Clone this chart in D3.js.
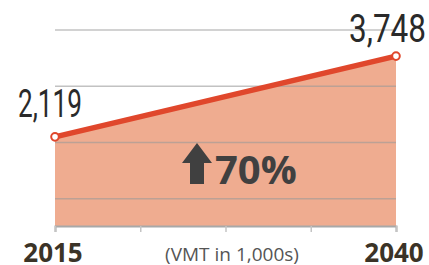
<!DOCTYPE html>
<html>
<head>
<meta charset="utf-8">
<script src="https://cdn.jsdelivr.net/npm/d3@7"></script>
<style>
  body { margin: 0; background: #fff; }
  svg { display: block; }
</style>
</head>
<body>
<script>
// data
var years = [2015, 2040];
var vmt = [2119, 3748];
var vmtLabels = ["2,119", "3,748"];
var gridValues = [870, 2005, 3140, 4275];
var changeLabel = "70%";
var unitLabel = "(VMT in 1,000s)";

var W = 429, H = 265;

var svg = d3.select("body")
    .append("svg")
    .attr("width", W)
    .attr("height", H)

var x = d3.scaleLinear()
    .domain([2015, 2040])
    .range([55, 396])

var y = d3.scaleLinear()
    .domain([300, 4275])
    .range([227, 30])

var pts = years.map((d, i) => ({year: d, v: vmt[i], label: vmtLabels[i]}))

// area under the line
var area = d3.area()
    .x(d => x(d.year))
    .y0(y(300))
    .y1(d => y(d.v))

svg.append("path")
    .datum(pts)
    .attr("d", area)
    .attr("fill", "#efac90")

// grid lines
svg.selectAll(".grid")
    .data(gridValues)
    .enter()
    .append("line")
    .attr("x1", x(2015))
    .attr("x2", x(2040))
    .attr("y1", d => y(d))
    .attr("y2", d => y(d))
    .attr("stroke", "#9a9a9a")
    .attr("stroke-opacity", 0.6)
    .attr("stroke-width", 1.5)

// x axis with ticks
var xAxis = d3.axisBottom(x)
    .tickValues(d3.range(5).map(i => 2015 + i * 25 / 4))
    .tickSize(6)
    .tickFormat("")

var ax = svg.append("g")
    .attr("transform", "translate(0," + (y(300) - 1) + ")")
    .call(xAxis)
ax.select(".domain").attr("stroke", "#a8a8a8").attr("stroke-width", 2)
ax.selectAll(".tick line").attr("stroke", "#c4c4c4").attr("stroke-width", 1.5)

// red line
svg.append("path")
    .datum(pts)
    .attr("d", d3.line().x(d => x(d.year)).y(d => y(d.v)))
    .attr("fill", "none")
    .attr("stroke", "#e0472c")
    .attr("stroke-width", 5.5)

svg.selectAll(".dot")
    .data(pts)
    .enter()
    .append("circle")
    .attr("cx", d => x(d.year))
    .attr("cy", d => y(d.v))
    .attr("r", 3.8)
    .attr("fill", "#fff")
    .attr("stroke", "#e0472c")
    .attr("stroke-width", 2)

// value labels (condensed look)
svg.selectAll(".vlab")
    .data(pts)
    .enter()
    .append("text")
    .attr("x", (d, i) => x(d.year) + (i == 0 ? -37 : -47))
    .attr("y", (d, i) => y(d.v) + (i == 0 ? -20 : -14))
    .attr("font-family", "Roboto, sans-serif")
    .attr("font-weight", 400)
    .attr("font-size", 38)
    .attr("textLength", (d, i) => i == 0 ? 64 : 77)
    .attr("lengthAdjust", "spacingAndGlyphs")
    .attr("fill", "#2a2a2a")
    .text(d => d.label)

// year labels
svg.selectAll(".ylab")
    .data(pts)
    .enter()
    .append("text")
    .attr("x", d => x(d.year) - 2)
    .attr("y", 262)
    .attr("text-anchor", "middle")
    .attr("font-family", "'Open Sans', sans-serif")
    .attr("font-weight", 700)
    .attr("font-size", 26)
    .attr("fill", "#3b3327")
    .text(d => d.year)

svg.append("text")
    .attr("x", 232)
    .attr("y", 261)
    .attr("text-anchor", "middle")
    .attr("font-family", "'Open Sans', sans-serif")
    .attr("font-size", 19)
    .attr("fill", "#555")
    .text(unitLabel)

// arrow + percent
var ax0 = 182, ay0 = 143
svg.append("path")
    .attr("d", "M" + (ax0 + 15) + "," + ay0 + " L" + (ax0 + 30) + "," + (ay0 + 20) +
      " L" + (ax0 + 22) + "," + (ay0 + 20) + " L" + (ax0 + 22) + "," + (ay0 + 41) +
      " L" + (ax0 + 8) + "," + (ay0 + 41) + " L" + (ax0 + 8) + "," + (ay0 + 20) +
      " L" + ax0 + "," + (ay0 + 20) + " Z")
    .attr("fill", "#404040")

svg.append("text")
    .attr("x", 215)
    .attr("y", 184)
    .attr("font-family", "'Open Sans', sans-serif")
    .attr("font-weight", 700)
    .attr("font-size", 40)
    .attr("fill", "#404040")
    .text(changeLabel)
</script>
</body>
</html>
